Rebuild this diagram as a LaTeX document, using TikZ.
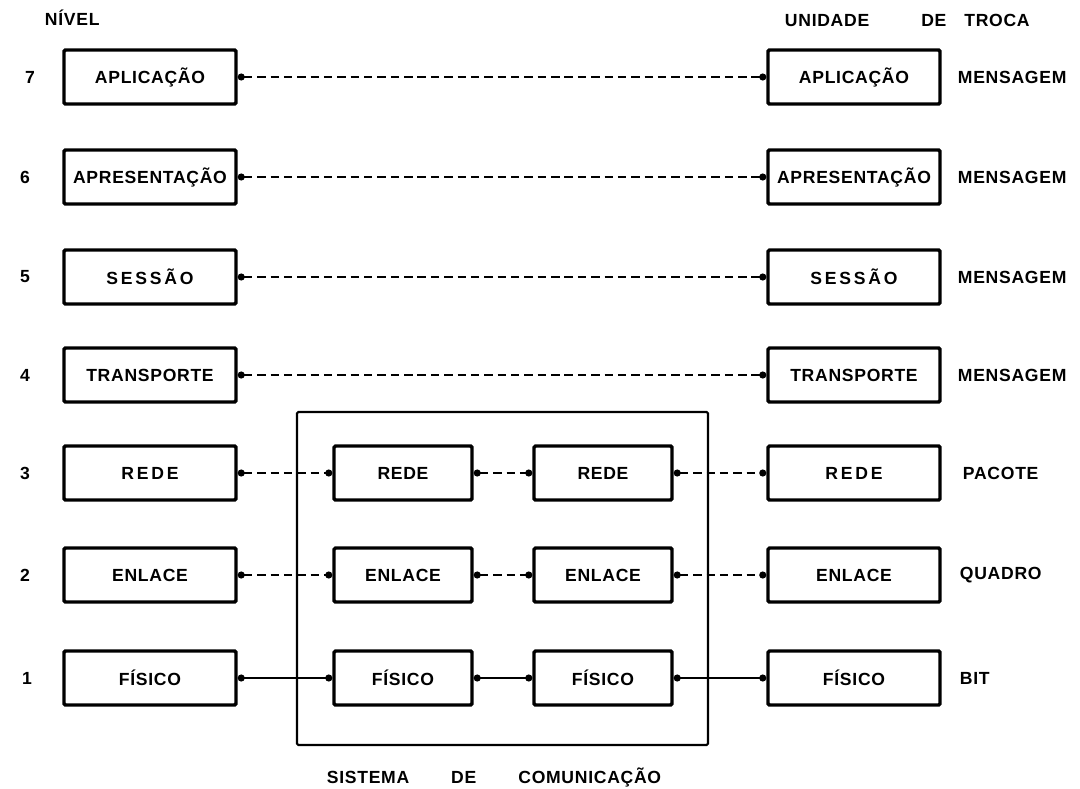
\documentclass[tikz,border=0pt]{standalone}
\usepackage{fontspec}
\setmainfont{Liberation Sans}[LetterSpace=4]
\newfontfamily\widefont{Liberation Sans}[LetterSpace=16]
\usetikzlibrary{arrows.meta}

\begin{document}
\begin{tikzpicture}[x=0.025cm, y=-0.025cm,
    font=\fontsize{12.5}{15}\selectfont\bfseries,
    layer/.style={draw, line width=2.4pt, rounded corners=1pt, minimum width=4.3cm, minimum height=1.35cm, inner sep=1pt},
    relay/.style={layer, minimum width=3.45cm},
    link/.style={{Circle[length=5pt]}-{Circle[length=5pt]}, line width=1.3pt, dash pattern=on 6pt off 3.5pt},
    wire/.style={{Circle[length=5pt]}-{Circle[length=5pt]}, line width=1.3pt}]
    \useasboundingbox (0,0) rectangle (1080,789);

    % headings
    \node[anchor=west] (nivel) at (40,18) {NÍVEL};
    \node[anchor=west] (unidade) at (780,20) {UNIDADE\hspace{1.3cm}DE\hspace{0.45cm}TROCA};

    % level numbers
    \node (lv7) at (30,77) {7};
    \node (lv6) at (25,177) {6};
    \node (lv5) at (25,277) {5};
    \node (lv4) at (25,375) {4};
    \node (lv3) at (25,473) {3};
    \node (lv2) at (25,575) {2};
    \node (lv1) at (27,678) {1};

    % end systems
    \node[layer] (a7) at (150,77) {APLICAÇÃO};
    \node[layer] (a6) at (150,177) {APRESENTAÇÃO};
    \node[layer] (a5) at (150,277) {\widefont SESSÃO};
    \node[layer] (a4) at (150,375) {TRANSPORTE};
    \node[layer] (a3) at (150,473) {\widefont REDE};
    \node[layer] (a2) at (150,575) {ENLACE};
    \node[layer] (a1) at (150,678) {FÍSICO};

    \node[layer] (d7) at (854,77) {APLICAÇÃO};
    \node[layer] (d6) at (854,177) {APRESENTAÇÃO};
    \node[layer] (d5) at (854,277) {\widefont SESSÃO};
    \node[layer] (d4) at (854,375) {TRANSPORTE};
    \node[layer] (d3) at (854,473) {\widefont REDE};
    \node[layer] (d2) at (854,575) {ENLACE};
    \node[layer] (d1) at (854,678) {FÍSICO};

    % communication system
    \draw[line width=1.5pt, rounded corners=1pt] (297,412) rectangle (708,745);
    \node[relay] (b3) at (403,473) {REDE};
    \node[relay] (b2) at (403,575) {ENLACE};
    \node[relay] (b1) at (403,678) {FÍSICO};
    \node[relay] (c3) at (603,473) {REDE};
    \node[relay] (c2) at (603,575) {ENLACE};
    \node[relay] (c1) at (603,678) {FÍSICO};
    \node (sistema) at (494,777) {SISTEMA\hspace{1.05cm}DE\hspace{1.05cm}COMUNICAÇÃO};

    % exchange units
    \node[anchor=west] (u7) at (953,77) {MENSAGEM};
    \node[anchor=west] (u6) at (953,177) {MENSAGEM};
    \node[anchor=west] (u5) at (953,277) {MENSAGEM};
    \node[anchor=west] (u4) at (953,375) {MENSAGEM};
    \node[anchor=west] (u3) at (958,473) {PACOTE};
    \node[anchor=west] (u2) at (955,575) {QUADRO};
    \node[anchor=west] (u1) at (955,678) {BIT};

    % peer links
    \draw[link] (a7) -- (d7);
    \draw[link] (a6) -- (d6);
    \draw[link] (a5) -- (d5);
    \draw[link] (a4) -- (d4);
    \draw[link] (a3) -- (b3);
    \draw[link] (b3) -- (c3);
    \draw[link] (c3) -- (d3);
    \draw[link] (a2) -- (b2);
    \draw[link] (b2) -- (c2);
    \draw[link] (c2) -- (d2);
    \draw[wire] (a1) -- (b1);
    \draw[wire] (b1) -- (c1);
    \draw[wire] (c1) -- (d1);
\end{tikzpicture}
\end{document}
